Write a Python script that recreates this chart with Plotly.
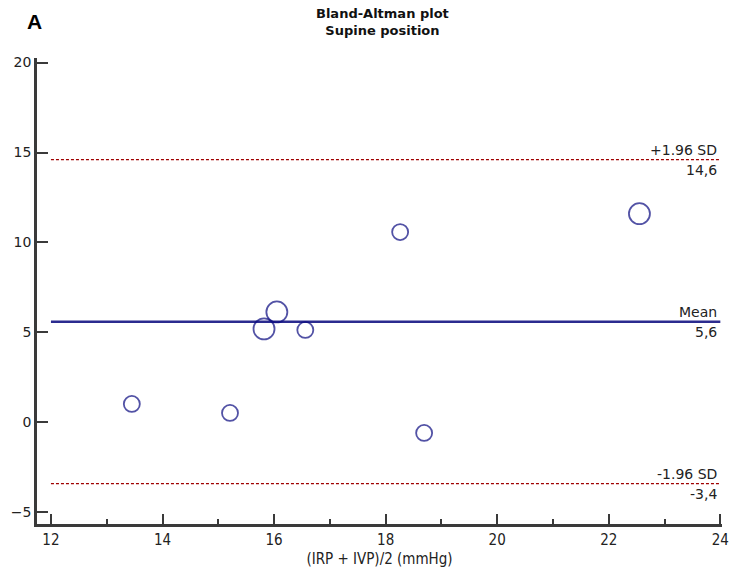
import plotly.graph_objects as go

# Bland-Altman data: mean of the two methods vs. their difference
mean_vals = [13.45, 15.21, 15.82, 16.05, 16.56, 18.26, 18.69, 22.55]
diff_vals = [1.03, 0.53, 5.2, 6.14, 5.14, 10.58, -0.58, 11.6]
counts = [1, 1, 2, 2, 1, 1, 1, 2]  # coincident observations per point

bias = 5.6
upper_loa = 14.6
lower_loa = -3.4
x_span = [12, 24]

font_main = "DejaVu Sans, Verdana, sans-serif"
font_cond = "DejaVu Sans Condensed, Tahoma, sans-serif"
axis_col = "#3a3a3a"
blue = "#2b2b8f"
red = "#a00000"

sizes = [16 if c == 1 else 21 for c in counts]

fig = go.Figure()

for loa in (upper_loa, lower_loa):
    fig.add_trace(go.Scatter(
        x=x_span, y=[loa, loa], mode="lines",
        line=dict(color=red, width=1.3, dash="3px,2px"), hoverinfo="skip"))
fig.add_trace(go.Scatter(
    x=x_span, y=[bias, bias], mode="lines",
    line=dict(color=blue, width=2.5), hoverinfo="skip"))

# open circles: white fill with a navy outline
fig.add_trace(go.Scatter(
    x=mean_vals, y=diff_vals, mode="markers",
    marker=dict(symbol="circle", size=sizes, color="rgba(0,0,0,0)",
                line=dict(width=1.8, color="#0a0a80"))))

def line_labels(y, top, bottom):
    fig.add_annotation(x=24, y=y, xref="x", yref="y", text=top,
                       showarrow=False, xanchor="right", yanchor="bottom",
                       xshift=-1, yshift=0,
                       font=dict(family=font_main, size=14, color="#222"))
    fig.add_annotation(x=24, y=y, xref="x", yref="y", text=bottom,
                       showarrow=False, xanchor="right", yanchor="top",
                       xshift=-1, yshift=0,
                       font=dict(family=font_main, size=14, color="#222"))

line_labels(upper_loa, "+1.96 SD", "14,6")
line_labels(bias, "Mean", "5,6")
line_labels(lower_loa, "-1.96 SD", "-3,4")

fig.add_annotation(
    text="<b>Bland-Altman plot</b><br><b>Supine position</b>",
    xref="paper", yref="paper", x=0.505, y=1.0, yshift=54,
    xanchor="center", yanchor="top", showarrow=False,
    font=dict(family=font_main, size=13, color="#111"))
fig.add_annotation(
    text="<b>A</b>", xref="paper", yref="paper", x=-0.003, y=1.0, yshift=50,
    xanchor="center", yanchor="top", showarrow=False,
    font=dict(family="Liberation Sans, Arial, sans-serif", size=21, color="#000"))

fig.update_layout(
    width=735, height=575,
    margin=dict(l=37, r=13, t=58, b=51, autoexpand=False),
    paper_bgcolor="white", plot_bgcolor="white",
    showlegend=False,
    font=dict(family=font_main, size=14, color="#222"),
)

fig.update_xaxes(
    range=[11.75, 24.03], automargin=False,
    tickvals=[12, 14, 16, 18, 20, 22, 24],
    ticks="inside", ticklen=10, tickwidth=2, tickcolor=axis_col,
    minor=dict(tickvals=[13, 15, 17, 19, 21, 23], ticks="inside",
               ticklen=5, tickwidth=1.5, tickcolor=axis_col),
    showline=True, linecolor=axis_col, linewidth=2.5,
    showgrid=False, zeroline=False,
    tickfont=dict(family=font_cond, size=15),
    title=dict(text="(IRP + IVP)/2 (mmHg)", standoff=6,
               font=dict(family=font_cond, size=15)),
)

fig.update_yaxes(
    range=[-5.64, 20.25], automargin=False,
    tickvals=[-5, 0, 5, 10, 15, 20],
    ticks="inside", ticklen=11, tickwidth=2, tickcolor=axis_col,
    showline=True, linecolor=axis_col, linewidth=2.5,
    showgrid=False, zeroline=False,
    tickfont=dict(family=font_main, size=14),
)

fig.write_html("out.html")
